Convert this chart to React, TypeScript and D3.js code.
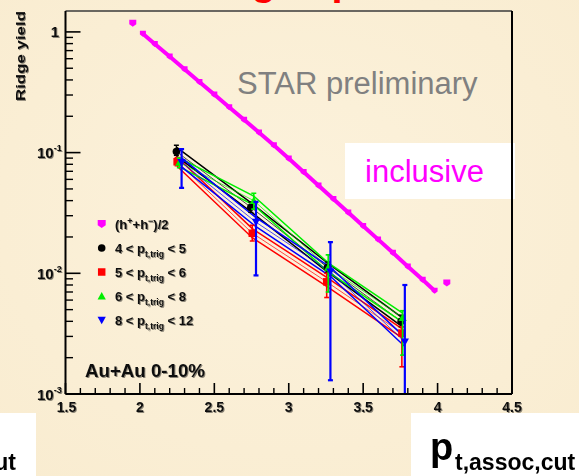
import React from 'react';
import * as d3 from 'd3';

// Canvas and plot frame
const W = 579;
const H = 476;
const frame = { left: 65.5, right: 512, top: 11, bottom: 394 };

const xDomain: [number, number] = [1.5, 4.5];
const yDomain: [number, number] = [0.001, 1.49];

// Axis ticks
const xMajorTicks = [1.5, 2, 2.5, 3, 3.5, 4, 4.5];
const xTickLabels = ['1.5', '2', '2.5', '3', '3.5', '4', '4.5'];
const yDecades = [1, 0.1, 0.01, 0.001];
const yDecadeExps = ['', '-1', '-2', '-3'];

// Inclusive (h+ + h-)/2 ridge yield, continuous run
const inclusiveX = [2.02, 2.1, 2.2, 2.3, 2.4, 2.5, 2.6, 2.7, 2.8, 2.9, 3.0, 3.1, 3.2, 3.3, 3.4, 3.5, 3.6, 3.7, 3.8, 3.9, 3.98];
const inclusiveY = [0.966, 0.795, 0.625, 0.491, 0.385, 0.303, 0.238, 0.187, 0.147, 0.115, 0.0892, 0.069, 0.0533, 0.0413, 0.0319, 0.0247, 0.0191, 0.0148, 0.0114, 0.00883, 0.00718];
// Inclusive end points drawn on their own
const inclusiveLoneX = [1.952, 4.062];
const inclusiveLoneY = [1.18, 0.0083];

// Triggered ridge yields
const blackX = [2.245, 2.745, 3.26, 3.755];
const blackY = [0.102, 0.0353, 0.0112, 0.004];
const blackLo = [0.095, 0.032, 0.0102, 0.0036];
const blackHi = [0.115, 0.039, 0.0124, 0.0045];

const redX = [2.25, 2.755, 3.255, 3.76];
const redY = [0.084, 0.0215, 0.0085, 0.0032];
const redLo = [0.078, 0.0185, 0.0063, 0.00168];
const redHi = [0.091, 0.025, 0.01, 0.0036];

const greenX = [2.265, 2.765, 3.265, 3.765];
const greenY = [0.083, 0.04, 0.0112, 0.0043];
const greenLo = [0.075, 0.034, 0.007, 0.0021];
const greenHi = [0.09, 0.046, 0.0142, 0.0049];

const blueX = [2.28, 2.78, 3.28, 3.78];
const blueY = [0.083, 0.0265, 0.0103, 0.0027];
const blueLo = [0.051, 0.0096, 0.0013, 0.0004];
const blueHi = [0.107, 0.039, 0.0181, 0.008];

// Legend trigger bins
const trigLow = ['4', '5', '6', '8'];
const trigHigh = ['5', '6', '8', '12'];

const FONT = '"Liberation Sans", Arial, Helvetica, sans-serif';
const MAGENTA = '#ff00ff';

type Series = {
  xs: number[];
  ys: number[];
  lo: number[];
  hi: number[];
  color: string;
  shape: 'circle' | 'square' | 'up' | 'down';
  barWidth: number;
};

const seriesList: Series[] = [
  { xs: blackX, ys: blackY, lo: blackLo, hi: blackHi, color: '#000000', shape: 'circle', barWidth: 1.4 },
  { xs: redX, ys: redY, lo: redLo, hi: redHi, color: '#ff0000', shape: 'square', barWidth: 1.6 },
  { xs: greenX, ys: greenY, lo: greenLo, hi: greenHi, color: '#00ee00', shape: 'up', barWidth: 1.6 },
  { xs: blueX, ys: blueY, lo: blueLo, hi: blueHi, color: '#0000ff', shape: 'down', barWidth: 2.2 },
];

function markerPath(shape: string, s: number): string {
  switch (shape) {
    case 'circle':
      return d3.symbol().type(d3.symbolCircle).size(s * s * 0.8)()!;
    case 'square':
      return `M${-s / 2},${-s / 2}h${s}v${s}h${-s}Z`;
    case 'up':
      return `M0,${-s * 0.55}L${s * 0.55},${s * 0.45}L${-s * 0.55},${s * 0.45}Z`;
    case 'down':
      return `M0,${s * 0.55}L${s * 0.55},${-s * 0.45}L${-s * 0.55},${-s * 0.45}Z`;
    default:
      // pentagon with the point downwards
      return `M${-s / 2},${-s / 2}L${s / 2},${-s / 2}L${s / 2},${s * 0.15}L0,${s / 2}L${-s / 2},${s * 0.15}Z`;
  }
}

export default function App() {
  const x = d3.scaleLinear().domain(xDomain).range([frame.left, frame.right]);
  const y = d3.scaleLog().domain(yDomain).range([frame.bottom, frame.top]);

  const xMinor = d3.range(15, 46).map((v) => v / 10).filter((v) => !xMajorTicks.some((m) => Math.abs(m - v) < 1e-6));
  const yMinor: number[] = [];
  [0.001, 0.01, 0.1].forEach((dec) => {
    for (let k = 2; k <= 9; k++) yMinor.push(dec * k);
  });

  const line = d3
    .line<[number, number]>()
    .x((d) => x(d[0]))
    .y((d) => y(d[1]));

  const incPts: [number, number][] = inclusiveX.map((v, i) => [v, inclusiveY[i]]);
  const band = 1.09;

  const textShadow = 'url(#soft)';

  return (
    <div style={{ position: 'absolute', left: 0, top: 0, width: W, height: H }}>
      <svg width={W} height={H} viewBox={`0 0 ${W} ${H}`} style={{ display: 'block' }} fontFamily={FONT}>
        <defs>
          <clipPath id="plotClip">
            <rect x={frame.left} y={frame.top} width={frame.right - frame.left} height={frame.bottom - frame.top} />
          </clipPath>
          <filter id="soft" x="-10%" y="-10%" width="130%" height="140%">
            <feGaussianBlur in="SourceAlpha" stdDeviation="0.6" result="b" />
            <feOffset in="b" dx="1" dy="1" result="o" />
            <feComponentTransfer in="o" result="s">
              <feFuncA type="linear" slope="0.45" />
            </feComponentTransfer>
            <feMerge>
              <feMergeNode in="s" />
              <feMergeNode in="SourceGraphic" />
            </feMerge>
          </filter>
          <radialGradient id="paper" cx="50%" cy="45%" r="75%">
            <stop offset="0%" stopColor="#fcf2dc" />
            <stop offset="100%" stopColor="#f9ecd0" />
          </radialGradient>
        </defs>

        {/* page background */}
        <rect x={0} y={0} width={W} height={H} fill="url(#paper)" />

        {/* slide title, mostly above the visible area */}
        <text x={187} y={-5} fontSize={40} fontWeight="bold" fill="#ff0000">
          Ridge spectra
        </text>

        {/* label boxes */}
        <rect x={345} y={143} width={170} height={56} fill="#ffffff" />
        <text x={365} y={182} fontSize={31} fill={MAGENTA}>
          inclusive
        </text>

        <text x={237} y={94} fontSize={31} fill="#808080">
          STAR preliminary
        </text>

        {/* data */}
        <g clipPath="url(#plotClip)">
          {seriesList.map((s, si) => {
            const pts: [number, number][] = s.xs.map((v, i) => [v, s.ys[i]]);
            const up: [number, number][] = pts.map((p) => [p[0], p[1] * band]);
            const dn: [number, number][] = pts.map((p) => [p[0], p[1] / band]);
            return (
              <g key={si}>
                <path d={line(up)!} fill="none" stroke={s.color} strokeWidth={1.5} />
                <path d={line(dn)!} fill="none" stroke={s.color} strokeWidth={1.5} />
                <path d={line(pts)!} fill="none" stroke={s.color} strokeWidth={1} opacity={0.7} />
              </g>
            );
          })}
          {seriesList.map((s, si) => (
            <g key={'e' + si}>
              {s.xs.map((v, i) => {
                const cx = x(v);
                const y0 = y(s.lo[i]);
                const y1 = y(s.hi[i]);
                return (
                  <g key={i} stroke={s.color} strokeWidth={s.barWidth}>
                    <line x1={cx} x2={cx} y1={y0} y2={y1} />
                    <line x1={cx - 2.5} x2={cx + 2.5} y1={y0} y2={y0} />
                    <line x1={cx - 2.5} x2={cx + 2.5} y1={y1} y2={y1} />
                  </g>
                );
              })}
              {s.xs.map((v, i) => (
                <path
                  key={'m' + i}
                  d={markerPath(s.shape, 7.5)}
                  transform={`translate(${x(v)},${y(s.ys[i])})`}
                  fill={s.color}
                />
              ))}
            </g>
          ))}

          {/* inclusive hadrons */}
          <path d={line(incPts)!} fill="none" stroke={MAGENTA} strokeWidth={4} strokeLinejoin="round" strokeLinecap="round" />
          {incPts.map((p, i) => (
            <path key={i} d={markerPath('pent', 6)} transform={`translate(${x(p[0])},${y(p[1])})`} fill={MAGENTA} />
          ))}
          {inclusiveLoneX.map((v, i) => (
            <path key={'l' + i} d={markerPath('pent', 7)} transform={`translate(${x(v)},${y(inclusiveLoneY[i])})`} fill={MAGENTA} />
          ))}
        </g>

        {/* frame */}
        <line x1={frame.left} x2={frame.right} y1={frame.top} y2={frame.top} stroke="#3a3a3a" strokeWidth={1.6} />
        <line x1={frame.right} x2={frame.right} y1={frame.top} y2={frame.bottom} stroke="#000" strokeWidth={2} />
        <line x1={frame.left} x2={frame.left} y1={frame.top} y2={frame.bottom} stroke="#000" strokeWidth={2} />
        <line x1={frame.left} x2={frame.right} y1={frame.bottom} y2={frame.bottom} stroke="#000" strokeWidth={2} />

        {/* x ticks */}
        {xMajorTicks.map((v) => (
          <line key={'xM' + v} x1={x(v)} x2={x(v)} y1={frame.bottom} y2={frame.bottom - 11} stroke="#000" strokeWidth={1.6} />
        ))}
        {xMinor.map((v) => (
          <line key={'xm' + v} x1={x(v)} x2={x(v)} y1={frame.bottom} y2={frame.bottom - 6} stroke="#000" strokeWidth={1.4} />
        ))}
        {/* y ticks */}
        {yDecades.map((v) => (
          <line key={'yM' + v} x1={frame.left} x2={frame.left + 15} y1={y(v)} y2={y(v)} stroke="#000" strokeWidth={1.6} />
        ))}
        {yMinor.map((v) => (
          <line key={'ym' + v} x1={frame.left} x2={frame.left + 7.5} y1={y(v)} y2={y(v)} stroke="#000" strokeWidth={1.4} />
        ))}

        <g filter={textShadow} fill="#111" fontWeight="bold">
          {/* x tick labels */}
          {xMajorTicks.map((v, i) => (
            <text key={'xl' + v} x={x(v) + (i === 0 ? 1 : 0)} y={412} fontSize={14} textAnchor="middle">
              {xTickLabels[i]}
            </text>
          ))}
          {/* y tick labels */}
          {yDecades.map((v, i) =>
            i === 0 ? (
              <text key={'yl' + v} x={59} y={y(v) + 5.5} fontSize={15} textAnchor="end">
                1
              </text>
            ) : (
              <text key={'yl' + v} x={37} y={y(v) + 5.5} fontSize={15}>
                10
                <tspan fontSize={9} dy={-7}>
                  {yDecadeExps[i]}
                </tspan>
              </text>
            )
          )}

          {/* y axis title */}
          <text transform="translate(25,56) rotate(-90)" fontSize={12} textAnchor="middle" textLength={90} lengthAdjust="spacingAndGlyphs">
            Ridge yield
          </text>

          {/* legend */}
          <text x={115} y={228.5} fontSize={13}>
            (h<tspan fontSize={9} dy={-5}>+</tspan>
            <tspan dy={5}>+h</tspan>
            <tspan fontSize={9} dy={-5}>−</tspan>
            <tspan dy={5}>)/2</tspan>
          </text>
          {trigLow.map((lo, i) => (
            <text key={'lg' + i} x={115} y={252.5 + i * 24} fontSize={13}>
              {lo} &lt; p<tspan fontSize={8.5} dy={4.5}>t,trig</tspan>
              <tspan dy={-4.5}> &lt; {trigHigh[i]}</tspan>
            </text>
          ))}

          <text x={85} y={377} fontSize={19} textLength={120} lengthAdjust="spacingAndGlyphs">
            Au+Au 0-10%
          </text>
        </g>

        {/* legend markers */}
        <path d={markerPath('pent', 8)} transform="translate(101.7,224)" fill={MAGENTA} />
        {seriesList.map((s, i) => (
          <path key={'lm' + i} d={markerPath(s.shape, 7.5)} transform={`translate(101.7,${248 + i * 24})`} fill={s.color} />
        ))}

        {/* axis variable boxes */}
        <rect x={411} y={413} width={168} height={63} fill="#ffffff" />
        <text x={430} y={460} fontSize={38} fontWeight="bold" fill="#000">
          p
        </text>
        <text x={455} y={470} fontSize={23} fontWeight="bold" fill="#000">
          t,assoc,cut
        </text>

        <rect x={0} y={413} width={36} height={63} fill="#ffffff" />
        <text x={16} y={470} fontSize={23} fontWeight="bold" fill="#000" textAnchor="end">
          cut
        </text>
      </svg>
    </div>
  );
}
